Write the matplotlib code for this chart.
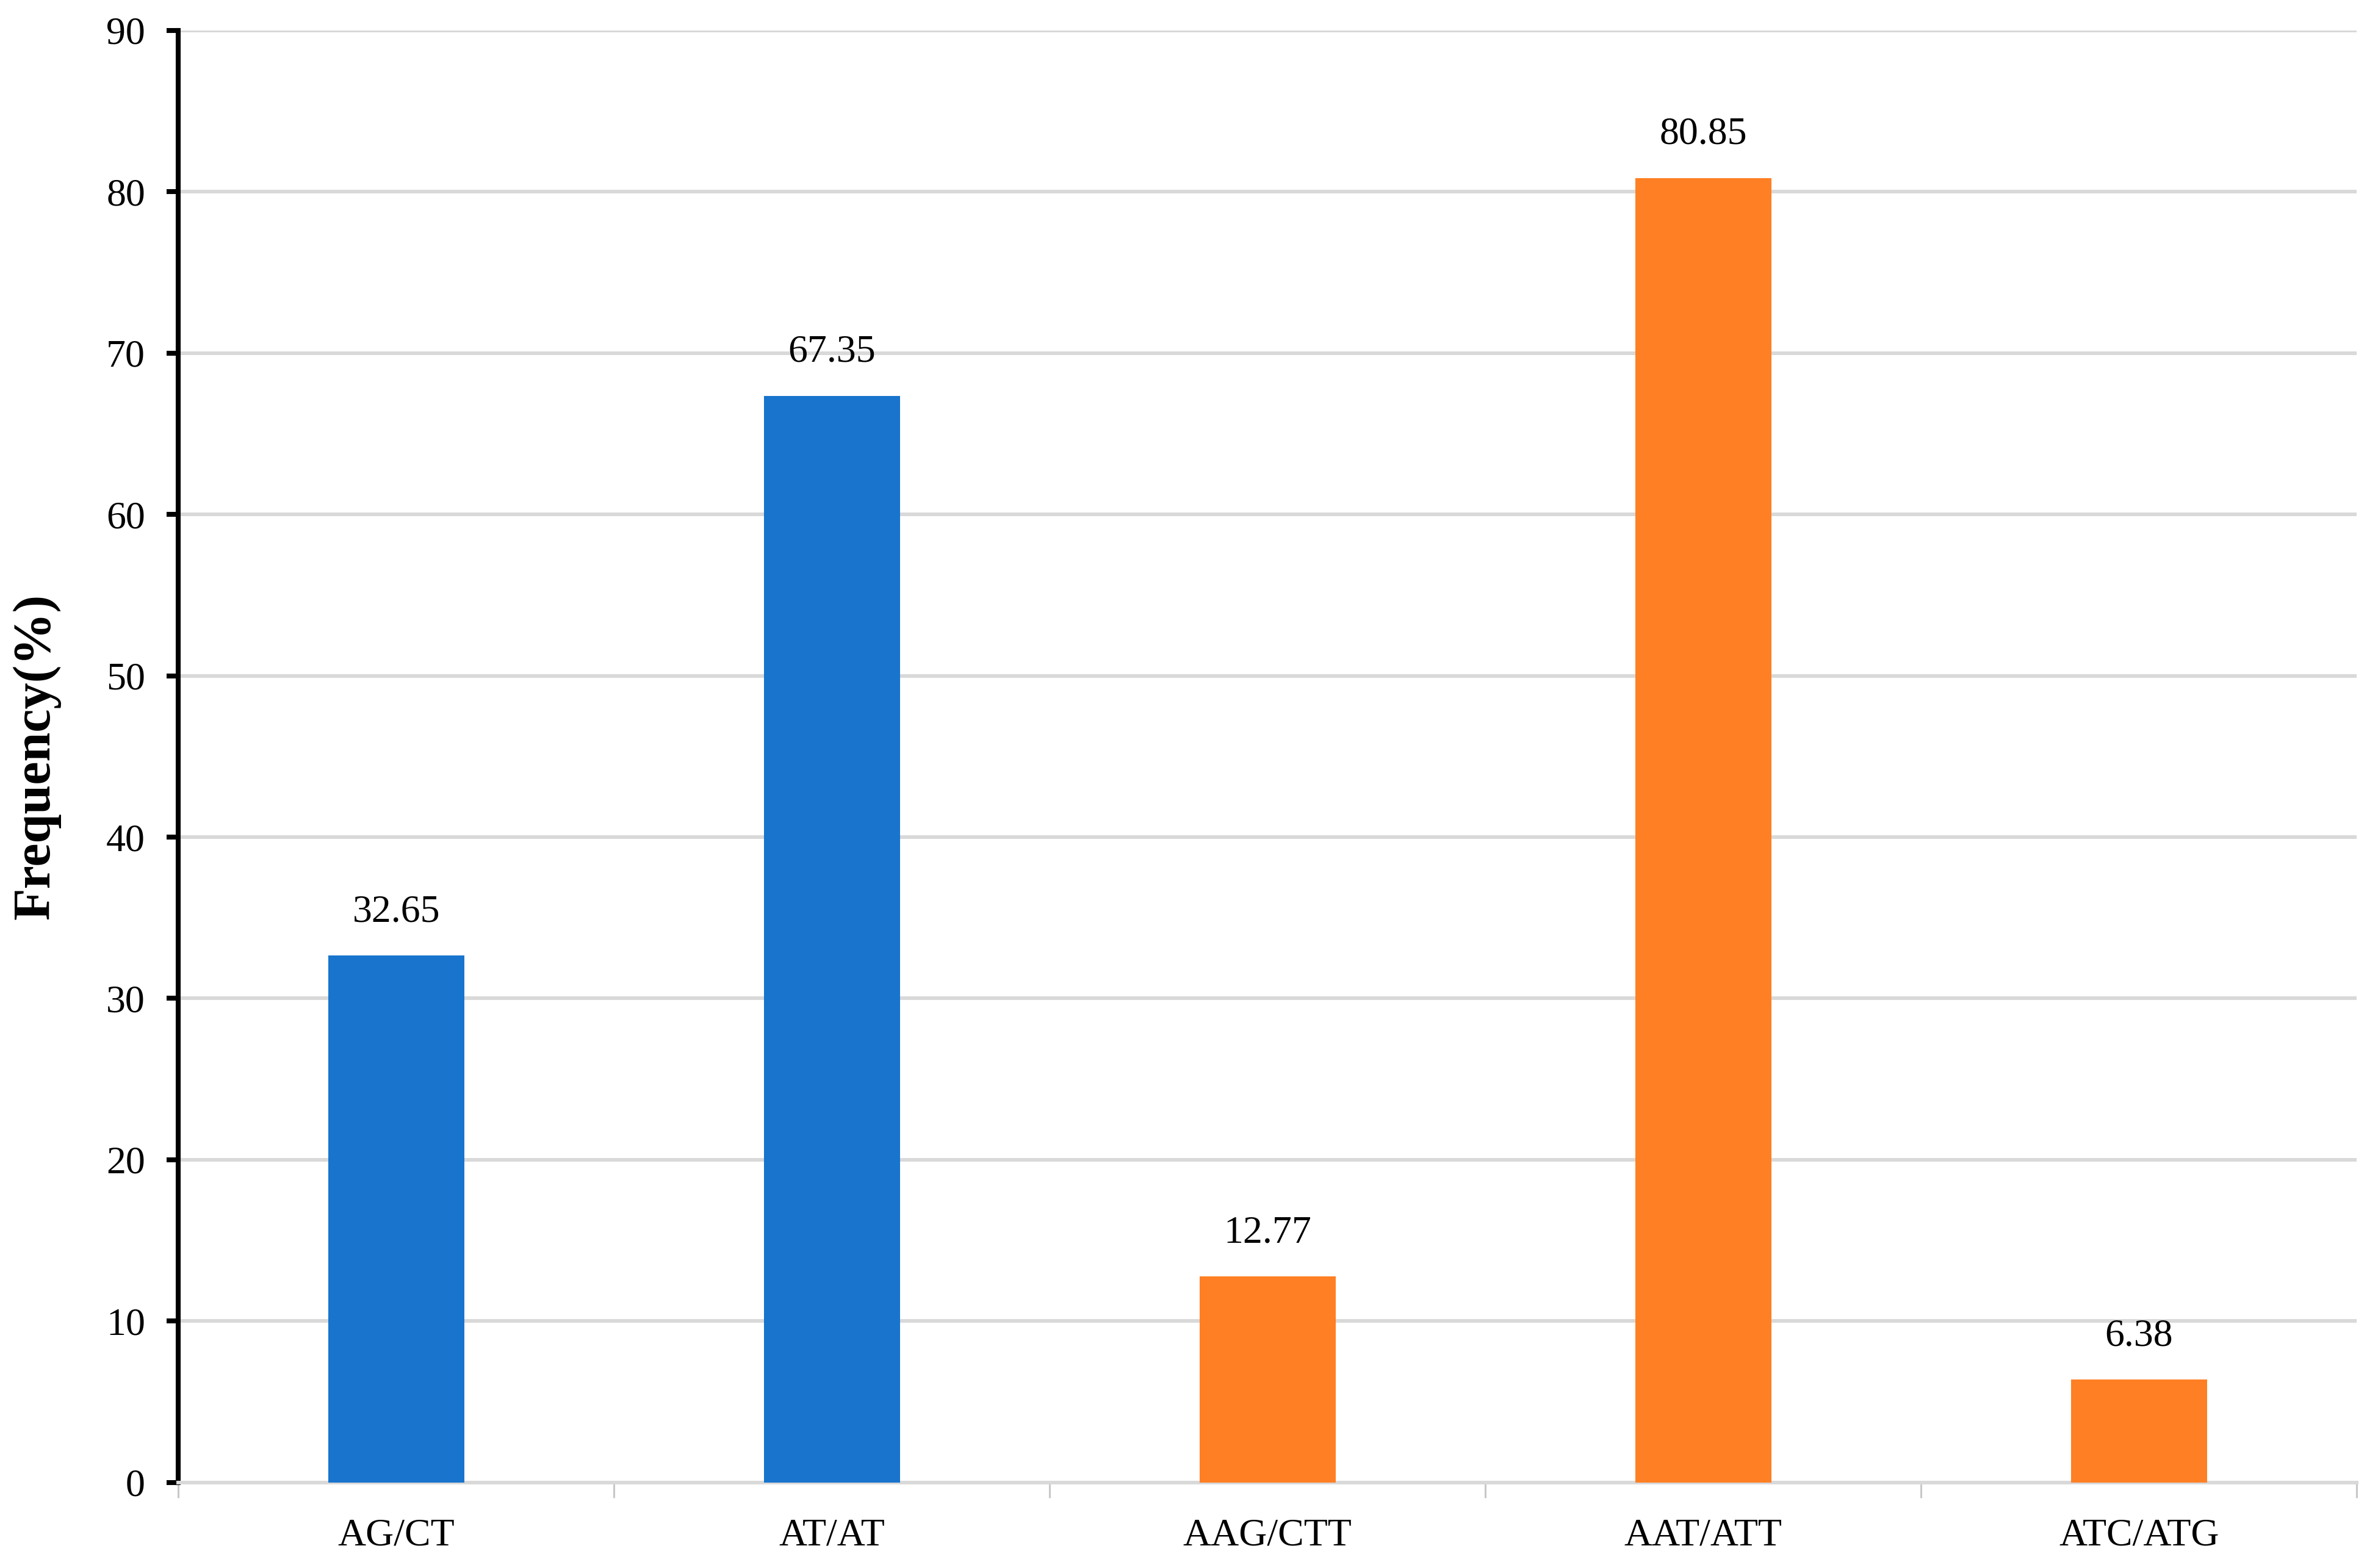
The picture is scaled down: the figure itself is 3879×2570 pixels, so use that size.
import numpy as np
import matplotlib
matplotlib.use("Agg")
import matplotlib.pyplot as plt

# data
motifs = ["AG/CT", "AT/AT", "AAG/CTT", "AAT/ATT", "ATC/ATG"]
frequency = [32.65, 67.35, 12.77, 80.85, 6.38]
bar_colors = ["#1874CD", "#1874CD", "#FF7F24", "#FF7F24", "#FF7F24"]
y_ticks = list(range(0, 100, 10))

plt.rcParams["font.family"] = ["Liberation Serif", "DejaVu Serif"]

fig = plt.figure(figsize=(38.8, 25.7), dpi=100)
ax = fig.add_axes([0.0753, 0.0545, 0.9201, 0.9262])

x = np.arange(len(motifs))
bars = ax.bar(x, frequency, width=0.312, color=bar_colors, linewidth=0, zorder=3)

# value labels above bars
for b, v in zip(bars, frequency):
    ax.annotate("%.2f" % v, (b.get_x() + b.get_width() / 2, v),
                xytext=(0, 30), textcoords="offset points",
                ha="center", va="bottom", fontsize=46, color="black")

ax.set_xlim(-0.5, len(motifs) - 0.5)
ax.set_ylim(0, 90)
ax.set_yticks(y_ticks)
ax.yaxis.grid(True, color="#D9D9D9", linewidth=4.3, zorder=0)
ax.set_axisbelow(True)

# category labels at centres, gray ticks at boundaries
ax.set_xticks(x)
ax.set_xticklabels(motifs)
ax.set_xticks(np.arange(-0.5, len(motifs), 1.0), minor=True)
ax.tick_params(axis="x", which="major", length=0, pad=42, labelsize=46)
ax.tick_params(axis="x", which="minor", length=18, width=2.2, color="#C8C8C8")
ax.tick_params(axis="y", which="major", length=14, width=5.8, color="black",
               pad=25, labelsize=46)

for side in ["top", "right"]:
    ax.spines[side].set_visible(False)
ax.spines["left"].set_linewidth(5.8)
ax.spines["left"].set_color("black")
ax.spines["bottom"].set_linewidth(4.3)
ax.spines["bottom"].set_color("#D9D9D9")

ax.set_ylabel("Frequency(%)", fontsize=62, fontweight="bold")
ax.yaxis.set_label_coords(-0.054, 0.5)

fig.savefig("out.png", dpi=100, facecolor="white")
